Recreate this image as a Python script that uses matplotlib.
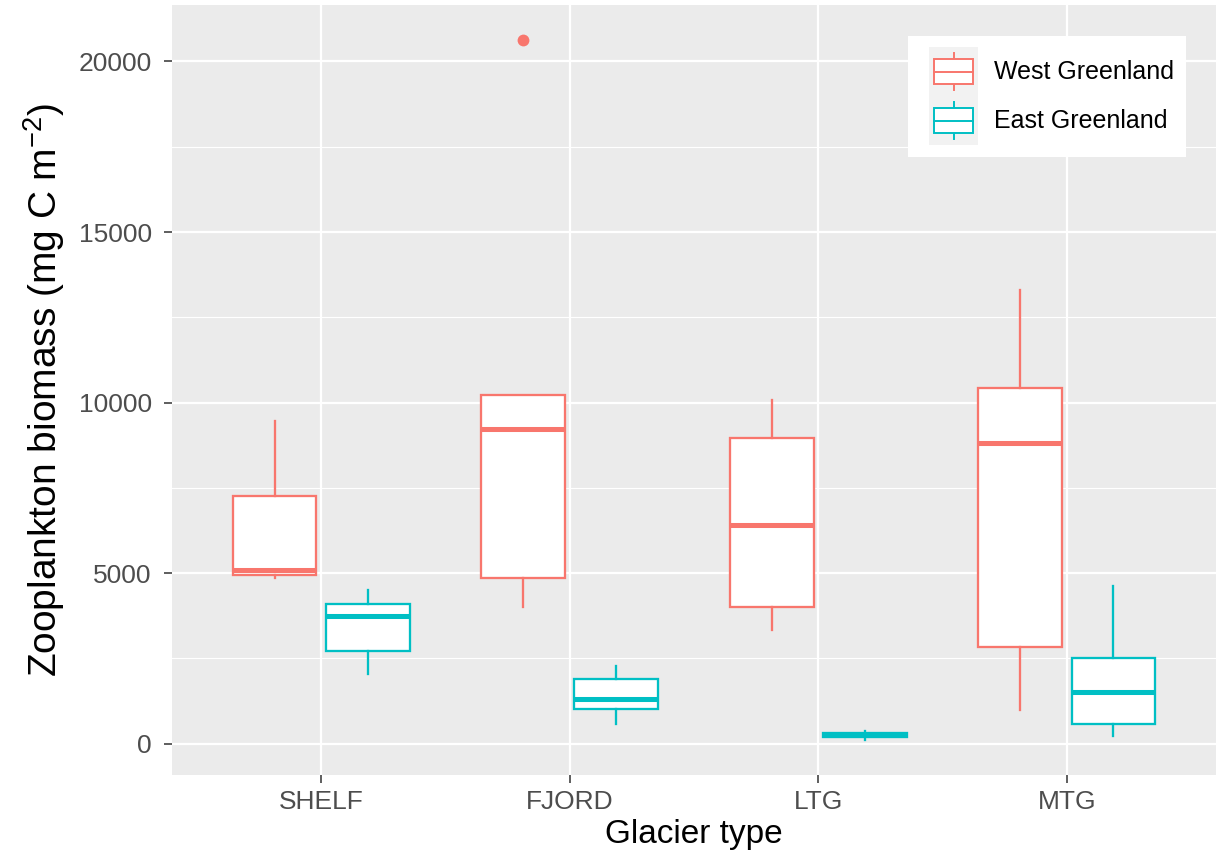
import numpy as np
import matplotlib
matplotlib.use('Agg')
import matplotlib.pyplot as plt
from matplotlib.patches import Rectangle
from matplotlib.lines import Line2D
from matplotlib.legend_handler import HandlerBase
from matplotlib.ticker import MultipleLocator

plt.rcParams['font.family'] = ['Liberation Sans', 'DejaVu Sans']
plt.rcParams['mathtext.fontset'] = 'custom'
plt.rcParams['mathtext.rm'] = 'Liberation Sans'
plt.rcParams['mathtext.default'] = 'regular'

### Data
groups = ['SHELF', 'FJORD', 'LTG', 'MTG']
regions = ['West Greenland', 'East Greenland']
colors = ['#F8766D', '#00BFC4']

west_whislo = [4870, 4020, 3320, 980]
west_q1 = [4960, 4850, 4000, 2830]
west_med = [5080, 9220, 6420, 8830]
west_q3 = [7270, 10230, 8960, 10430]
west_whishi = [9470, 10230, 10090, 13290]
west_fliers = [[], [20630], [], []]

east_whislo = [2050, 580, 110, 240]
east_q1 = [2730, 1010, 190, 590]
east_med = [3750, 1300, 250, 1520]
east_q3 = [4110, 1900, 310, 2510]
east_whishi = [4520, 2290, 380, 4630]
east_fliers = [[], [], [], []]


def make_stats(lo, q1, med, q3, hi, fl):
    stats = []
    for i in range(len(lo)):
        stats.append({'whislo': lo[i], 'q1': q1[i], 'med': med[i], 'q3': q3[i],
                      'whishi': hi[i], 'fliers': fl[i]})
    return stats


west_stats = make_stats(west_whislo, west_q1, west_med, west_q3, west_whishi, west_fliers)
east_stats = make_stats(east_whislo, east_q1, east_med, east_q3, east_whishi, east_fliers)

### Figure
W, H = 1223, 857
fig = plt.figure(figsize=(W / 100, H / 100), dpi=100)
ax = fig.add_axes([172 / W, 1 - 775 / H, (1216 - 172) / W, (775 - 5) / H])
ax.set_facecolor('#EBEBEB')
for s in ax.spines.values():
    s.set_visible(False)

box_lw = 1.65
x = np.arange(1, len(groups) + 1)
offsets = [-0.1875, 0.1875]
for stats, off, col in zip([west_stats, east_stats], offsets, colors):
    ax.bxp(stats, positions=x + off, widths=0.3375, patch_artist=True,
           showcaps=False,
           boxprops=dict(facecolor='white', edgecolor=col, linewidth=box_lw),
           medianprops=dict(color=col, linewidth=box_lw * 2.2, solid_capstyle='butt'),
           whiskerprops=dict(color=col, linewidth=box_lw),
           flierprops=dict(marker='o', markerfacecolor=col, markeredgecolor='none',
                           markersize=8.5),
           manage_ticks=False, zorder=3)

ax.set_xlim(0.4, 4.6)
ax.set_ylim(-916, 21656)
ax.set_xticks(x)
ax.set_xticklabels(groups)
ax.yaxis.set_major_locator(MultipleLocator(5000))
ax.yaxis.set_minor_locator(MultipleLocator(2500))
ax.set_axisbelow(True)
ax.grid(which='major', color='white', linewidth=1.6)
ax.grid(which='minor', axis='y', color='white', linewidth=0.8)
ax.tick_params(which='major', length=5.5, width=1.1, color='#333333',
               labelcolor='#4D4D4D', labelsize=19)
ax.tick_params(axis='y', pad=9)
ax.tick_params(axis='x', pad=5)
ax.tick_params(which='minor', length=0)

ax.set_xlabel('Glacier type', fontsize=24, labelpad=4)
ax.set_ylabel('Zooplankton biomass (mg C m$^{-2}$)', fontsize=28, labelpad=8)


### legend with boxplot key glyphs
class BoxHandler(HandlerBase):
    def create_artists(self, legend, orig_handle, xdescent, ydescent, width, height,
                       fontsize, trans):
        col = orig_handle.get_color()
        pad = width * 10 / 59.0
        kx = -xdescent + pad
        kw = width - pad
        ky = -ydescent
        bg = Rectangle((kx, ky), kw, height, facecolor='#F2F2F2', edgecolor='none',
                       transform=trans)
        bx0 = kx + kw * 5 / 49.0
        bw = kw * 39 / 49.0
        bh = height * 25 / 49.0
        by0 = ky + (height - bh) / 2
        box = Rectangle((bx0, by0), bw, bh, facecolor='white', edgecolor=col,
                        linewidth=1.4, transform=trans)
        cx = kx + kw / 2
        med = Line2D([bx0, bx0 + bw], [ky + height / 2] * 2, color=col, linewidth=1.4,
                     transform=trans)
        w1 = Line2D([cx, cx], [ky + height * 6 / 49.0, by0], color=col, linewidth=1.4,
                    transform=trans)
        w2 = Line2D([cx, cx], [by0 + bh, ky + height * 43 / 49.0], color=col,
                    linewidth=1.4, transform=trans)
        return [bg, w1, w2, box, med]


handles = [Line2D([], [], color=c) for c in colors]
leg = ax.legend(handles, regions, handler_map={Line2D: BoxHandler()},
                loc='upper left', bbox_to_anchor=(908 / W, 1 - 36 / H),
                bbox_transform=fig.transFigure, fontsize=18, frameon=True,
                fancybox=False, framealpha=1, edgecolor='white', facecolor='white',
                handlelength=59 / 25.0, handleheight=2.64, handletextpad=0.65,
                labelspacing=0, borderpad=0.45, borderaxespad=0)
leg.get_frame().set_linewidth(0)

fig.savefig('out.png', dpi=100)
